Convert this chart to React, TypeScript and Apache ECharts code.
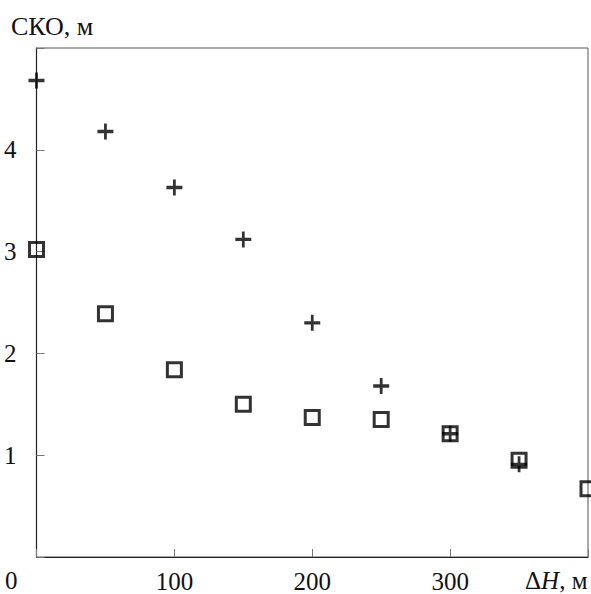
import React, { useEffect, useRef } from "react";
import * as echarts from "echarts";

const xValues = [0, 50, 100, 150, 200, 250, 300, 350, 400];
const plusValues = [4.68, 4.18, 3.63, 3.12, 2.3, 1.68, 1.21, 0.91];
const squareValues = [3.02, 2.39, 1.84, 1.5, 1.37, 1.35, 1.21, 0.95, 0.67];
const xTickLabels = ["100", "200", "300"];
const yTickLabels = ["1", "2", "3", "4"];

const FONT = "'Liberation Serif', 'Times New Roman', serif";
const PLUS_PATH =
  "path://M6.2,0H8.8V5.9H15V9.1H8.8V15H6.2V9.1H0V5.9H6.2Z";

export default function App() {
  const ref = useRef<HTMLDivElement>(null);
  useEffect(() => {
    if (!ref.current) return;
    const chart = echarts.init(ref.current, null, { renderer: "svg" });
    const plusData = plusValues.map((v, i) => [xValues[i], v]);
    const squareData = squareValues.map((v, i) => [xValues[i], v]);
    chart.setOption({
      animation: false,
      backgroundColor: "#fff",
      grid: {
        left: 36.5,
        right: 2,
        top: 48,
        bottom: 36.5,
        show: true,
        borderColor: "#555",
        borderWidth: 1,
        backgroundColor: "transparent",
      },
      xAxis: {
        type: "value",
        min: 0,
        max: 400,
        interval: 100,
        splitLine: { show: false },
        axisLine: { show: true, lineStyle: { color: "#222", width: 1.2 } },
        axisTick: { show: true, inside: true, length: 8, lineStyle: { color: "#777" } },
        axisLabel: {
          margin: 12,
          fontFamily: FONT,
          fontSize: 25,
          color: "#111",
          formatter: (v: number) => {
            const s = String(v);
            return xTickLabels.includes(s) ? s : "";
          },
        },
      },
      yAxis: {
        type: "value",
        min: 0,
        max: 5,
        interval: 1,
        splitLine: { show: false },
        axisLine: { show: true, lineStyle: { color: "#222", width: 1.2 } },
        axisTick: { show: true, inside: true, length: 8, lineStyle: { color: "#777" } },
        axisLabel: {
          margin: 20,
          fontFamily: FONT,
          fontSize: 25,
          color: "#111",
          formatter: (v: number) => {
            const s = String(v);
            return yTickLabels.includes(s) ? s : "";
          },
        },
      },
      graphic: [
        {
          type: "text",
          left: 11,
          top: 13,
          style: { text: "СКО, м", font: `26px ${FONT}`, fill: "#111" },
        },
        {
          type: "text",
          left: 5,
          top: 568,
          style: { text: "0", font: `25px ${FONT}`, fill: "#111" },
        },
        {
          type: "text",
          left: 525,
          top: 568,
          style: {
            text: "{a|Δ}{b|H}{a|, м}",
            fill: "#111",
            rich: {
              a: { fontFamily: FONT, fontSize: 25, color: "#111" },
              b: { fontFamily: FONT, fontSize: 25, fontStyle: "italic", color: "#111" },
            },
          },
        },
      ],
      series: [
        {
          type: "scatter",
          name: "squares",
          data: squareData,
          symbol: "rect",
          symbolSize: 14,
          clip: false,
          itemStyle: { color: "rgba(255,255,255,0)", borderColor: "#000", borderWidth: 3 },
          z: 2,
        },
        {
          type: "scatter",
          name: "plus",
          data: plusData,
          symbol: PLUS_PATH,
          symbolSize: 16,
          clip: false,
          itemStyle: { color: "#000" },
          z: 3,
        },
      ],
    });
    return () => chart.dispose();
  }, []);
  return (
    <div
      ref={ref}
      style={{ position: "fixed", left: 0, top: 0, width: 591, height: 594 }}
    />
  );
}
